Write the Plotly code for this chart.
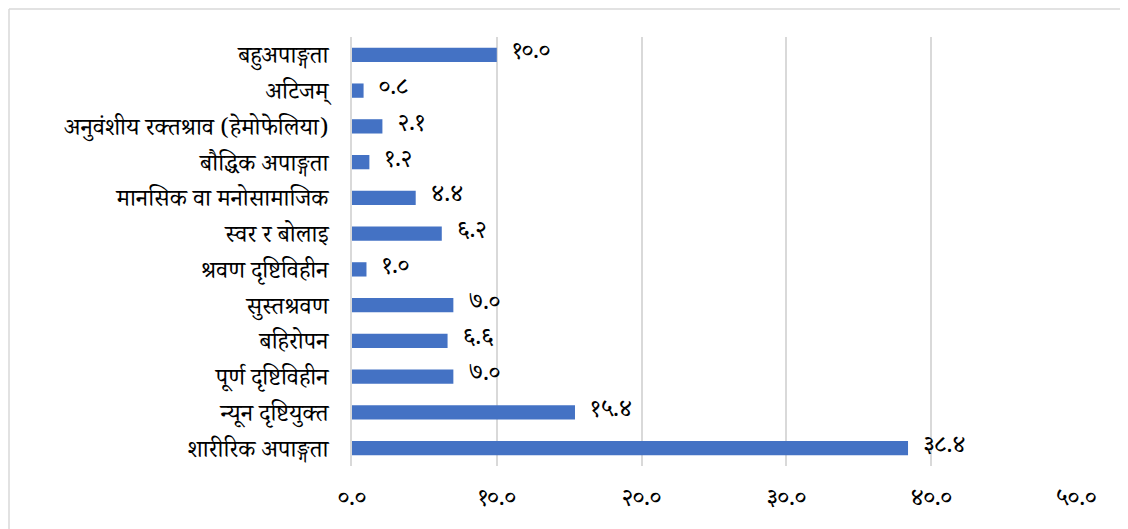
import plotly.graph_objects as go

categories = [
    "बहुअपाङ्गता",
    "अटिजम्",
    "अनुवंशीय रक्तश्राव (हेमोफेलिया)",
    "बौद्धिक अपाङ्गता",
    "मानसिक वा मनोसामाजिक",
    "स्वर र बोलाइ",
    "श्रवण दृष्टिविहीन",
    "सुस्तश्रवण",
    "बहिरोपन",
    "पूर्ण दृष्टिविहीन",
    "न्यून दृष्टियुक्त",
    "शारीरिक अपाङ्गता",
]
values = [10.0, 0.8, 2.1, 1.2, 4.4, 6.2, 1.0, 7.0, 6.6, 7.0, 15.4, 38.4]
tick_values = [0, 10, 20, 30, 40, 50]

DEV = str.maketrans("0123456789", "०१२३४५६७८९")


def dev(v):
    return f"{v:.1f}".translate(DEV)


tick_text = [dev(v) for v in tick_values]
value_text = ["\u00a0\u00a0" + dev(v) for v in values]

# page body has an 8px margin; figure starts at screen x=8, y=8
W, H = 1120, 521
L, T = 344, 29
R = W - (1076 - 8)
B = H - (466 - 8)
pw, ph = W - L - R, H - T - B

FONT = "Noto Serif Devanagari, Noto Sans Devanagari, Lohit Devanagari, serif"
BORDER = dict(color="#D9D9D9", width=1.5)

fig = go.Figure(
    go.Bar(
        y=categories,
        x=values,
        orientation="h",
        marker=dict(color="#4472C4", line=dict(width=0)),
        width=0.4,
        text=value_text,
        textposition="outside",
        constraintext="none",
        cliponaxis=False,
        textfont=dict(size=24, color="#000000", family=FONT),
    )
)

x_left = (-L + 1) / pw
y_top = (ph + T - 1) / ph
fig.update_layout(
    width=W,
    height=H,
    margin=dict(l=L, r=R, t=T, b=B, pad=0, autoexpand=False),
    plot_bgcolor="white",
    paper_bgcolor="white",
    font=dict(family=FONT, size=24, color="#000000"),
    showlegend=False,
    shapes=[
        dict(type="line", xref="paper", yref="paper",
             x0=x_left, x1=(W - L) / pw, y0=y_top, y1=y_top,
             line=BORDER, layer="below"),
        dict(type="line", xref="paper", yref="paper",
             x0=x_left, x1=x_left, y0=-B / ph, y1=y_top,
             line=BORDER, layer="below"),
    ],
)

fig.update_xaxes(
    range=[0, 50],
    tickvals=tick_values,
    ticktext=tick_text,
    showgrid=True,
    gridcolor="#D9D9D9",
    gridwidth=1.5,
    zeroline=False,
    showline=False,
    ticks="",
    ticklabelstandoff=14,
    automargin=False,
    tickfont=dict(size=24, family=FONT),
)
fig.update_yaxes(
    categoryorder="array",
    categoryarray=list(reversed(categories)),
    showline=True,
    linecolor="#D9D9D9",
    linewidth=1.5,
    ticks="",
    ticklabelstandoff=17,
    automargin=False,
    tickfont=dict(size=24, family=FONT),
)

fig.write_html(
    "out.html",
    post_script=(
        "document.documentElement.style.overflow='hidden';"
        "document.body.style.overflow='hidden';"
    ),
)
